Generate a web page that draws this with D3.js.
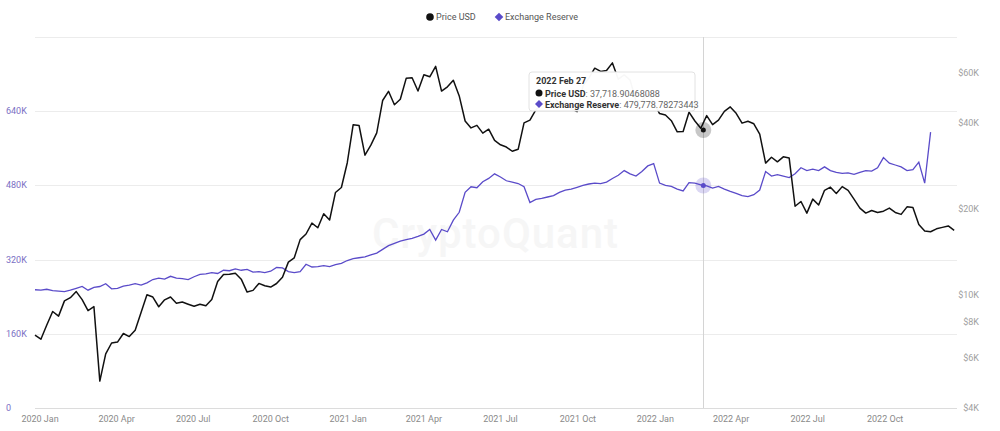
<!DOCTYPE html>
<html>
<head>
<meta charset="utf-8">
<script src="https://cdn.jsdelivr.net/npm/d3@7"></script>
<style>
  html, body { margin: 0; padding: 0; background: #fff; }
  svg { display: block; font-family: Roboto, "Noto Sans", sans-serif; }
  .xlab { fill: #8a8a8a; font-size: 9px; }
  .ylab { fill: #7a70c4; font-size: 9px; }
  .rlab { fill: #a0a0a0; font-size: 9px; }
</style>
</head>
<body>
<div id="chart"></div>
<script>
// weekly samples, first one on 2019-12-26
const startDate = new Date(2019, 11, 26);

const priceUsd = [
  7200, 6970, 7820, 8720, 8400, 9500, 9750, 10240, 9600, 8780,
  9070, 4970, 6190, 6760, 6810, 7300, 7120, 7500, 8650, 9980,
  9800, 9060, 9580, 9800, 9320, 9410, 9250, 9100, 9250, 9130,
  9600, 11100, 11750, 11770, 11870, 11320, 10200, 10340, 10940, 10730,
  10620, 10930, 11500, 12990, 13450, 15580, 16300, 17800, 17150, 19200,
  18250, 22800, 23730, 28990, 39400, 39150, 30800, 33400, 36900, 47900,
  51600, 46300, 48400, 57300, 57600, 51700, 59000, 58000, 63100, 51700,
  53500, 56400, 49700, 40600, 38400, 39200, 36800, 38000, 34700, 33500,
  32900, 31800, 32300, 40000, 40900, 44400, 46700, 46900, 49900, 46400,
  47700, 44900, 43800, 53800, 57400, 62200, 60600, 61000, 64900, 56900,
  58900, 56500, 47600, 47600, 50800, 47100, 43100, 42600, 40700, 37200,
  37300, 43600, 40600, 38300, 42400, 39400, 40900, 43900, 45500, 43200,
  39900, 40500, 39700, 36500, 28900, 30300, 29200, 30400, 30100, 20400,
  21200, 19300, 21600, 20600, 23200, 23800, 22600, 23900, 23200, 21600,
  20100, 19300, 19700, 19400, 19600, 20100, 19400, 19100, 20300, 20200,
  17600, 16700, 16600, 17000, 17200, 17400, 16800
];

// thousands
const exchangeReserve = [
  255, 254, 256, 253, 252, 251, 254, 258, 262, 254,
  260, 262, 268, 257, 258, 263, 265, 268, 265, 270,
  277, 280, 278, 284, 280, 279, 277, 283, 288, 289,
  292, 290, 297, 296, 300, 297, 299, 293, 294, 292,
  295, 303, 302, 294, 292, 294, 310, 304, 305, 307,
  305, 309, 312, 318, 322, 324, 326, 330, 334, 342,
  350, 355, 360, 363, 366, 370, 375, 385, 362, 385,
  380, 405, 422, 465, 477, 475, 488, 495, 505, 498,
  490, 487, 484, 477, 443, 450, 452, 455, 458, 465,
  470, 472, 476, 480, 483, 485, 484, 487, 495, 502,
  512, 505, 500, 510, 522, 527, 485, 480, 478, 472,
  468, 486, 485, 481, 479, 474, 478, 472, 467, 463,
  458, 456, 460, 470, 510, 500, 503, 500, 497, 505,
  518, 512, 515, 512, 520, 512, 508, 506, 507, 504,
  508, 512, 511, 518, 540, 528, 524, 520, 512, 514,
  530, 485, 595
];

const leftTicks = [0, 160000, 320000, 480000, 640000];
const leftTickLabels = ["0", "160K", "320K", "480K", "640K"];
const rightTicks = [4000, 6000, 8000, 10000, 20000, 40000, 60000];
const rightTickLabels = ["$4K", "$6K", "$8K", "$10K", "$20K", "$40K", "$60K"];

const hoverDate = new Date(2022, 1, 27);
const hoverPrice = "37,718.90468088";
const hoverReserve = "479,778.78273443";

const W = 1000, H = 431;
const plot = {left: 35, right: 955, top: 37, bottom: 408};
const purple = "#5a4bc9";
const diamond = s => `M0,${-s}L${s},0L0,${s}L${-s},0Z`;
const num = s => +s.replace(/,/g, "");

const dates = priceUsd.map((_, i) => d3.timeDay.offset(startDate, i * 7));
const priceData = priceUsd.map((v, i) => ({date: dates[i], value: v}));
const reserveData = exchangeReserve.map((v, i) => ({date: dates[i], value: v * 1000}));

const x = d3.scaleTime()
  .domain([startDate, new Date(2022, 11, 23)])
  .range([plot.left, plot.right]);
const yLeft = d3.scaleLinear().domain([0, 800000]).range([plot.bottom, plot.top]);
const yRight = d3.scaleLog().domain([4000, 80000]).range([plot.bottom, plot.top]);

const svg = d3.select("#chart").append("svg")
  .attr("width", W).attr("height", H);

// grid
svg.append("g").selectAll("line")
  .data(leftTicks.concat([800000]))
  .enter().append("line")
  .attr("x1", plot.left).attr("x2", plot.right + 2)
  .attr("y1", d => Math.round(yLeft(d)) + 0.5)
  .attr("y2", d => Math.round(yLeft(d)) + 0.5)
  .attr("stroke", d => d === 0 ? "#dcdcdc" : "#ececec");

// watermark
svg.append("text")
  .attr("x", 495).attr("y", 248)
  .attr("text-anchor", "middle")
  .attr("font-size", 42)
  .attr("font-weight", 500)
  .attr("textLength", 246)
  .attr("fill", "#f6f6f6")
  .text("CryptoQuant");

// left axis labels
svg.append("g").selectAll("text")
  .data(leftTicks)
  .enter().append("text")
  .attr("class", "ylab")
  .attr("x", 6)
  .attr("y", d => yLeft(d) + 3)
  .text((d, i) => leftTickLabels[i]);

// right axis labels
svg.append("g").selectAll("text")
  .data(rightTicks)
  .enter().append("text")
  .attr("class", "rlab")
  .attr("x", 979)
  .attr("text-anchor", "end")
  .attr("y", d => yRight(d) + 3)
  .text((d, i) => rightTickLabels[i]);

// x axis labels
const fmt = d3.timeFormat("%Y %b");
svg.append("g").selectAll("text")
  .data(d3.timeMonth.every(3).range(new Date(2020, 0, 1), new Date(2022, 11, 1)))
  .enter().append("text")
  .attr("class", "xlab")
  .attr("x", d => x(d))
  .attr("y", 422)
  .attr("text-anchor", "middle")
  .text(d => fmt(d));

// crosshair
svg.append("line")
  .attr("x1", Math.round(x(hoverDate)) + 0.5).attr("x2", Math.round(x(hoverDate)) + 0.5)
  .attr("y1", plot.top).attr("y2", plot.bottom)
  .attr("stroke", "#d4d4d4");

// series
svg.append("path")
  .datum(reserveData)
  .attr("fill", "none")
  .attr("stroke", purple)
  .attr("stroke-width", 1.3)
  .attr("d", d3.line().x(d => x(d.date)).y(d => yLeft(d.value)));

svg.append("path")
  .datum(priceData)
  .attr("fill", "none")
  .attr("stroke", "#111")
  .attr("stroke-width", 1.5)
  .attr("stroke-linejoin", "round")
  .attr("d", d3.line().x(d => x(d.date)).y(d => yRight(d.value)));

// hover markers
const hx = x(hoverDate);
svg.append("circle").attr("cx", hx).attr("cy", yRight(num(hoverPrice))).attr("r", 8).attr("fill", "rgba(0,0,0,0.22)");
svg.append("circle").attr("cx", hx).attr("cy", yRight(num(hoverPrice))).attr("r", 2.5).attr("fill", "#111");
svg.append("circle").attr("cx", hx).attr("cy", yLeft(num(hoverReserve))).attr("r", 8).attr("fill", "rgba(90,75,201,0.22)");
svg.append("circle").attr("cx", hx).attr("cy", yLeft(num(hoverReserve))).attr("r", 2.5).attr("fill", purple);

// tooltip
const tip = svg.append("g").attr("transform", "translate(529,72)");
tip.append("rect")
  .attr("width", 166).attr("height", 39)
  .attr("rx", 3)
  .attr("fill", "rgba(255,255,255,0.97)")
  .attr("stroke", "#e2e2e2");
tip.append("text")
  .attr("x", 7).attr("y", 12)
  .attr("font-size", 9).attr("font-weight", 700).attr("fill", "#333")
  .text("2022 Feb 27");
tip.append("circle").attr("cx", 10).attr("cy", 21).attr("r", 3.5).attr("fill", "#111");
const t1 = tip.append("text").attr("x", 16).attr("y", 24.5).attr("font-size", 9).attr("fill", "#666");
t1.append("tspan").attr("font-weight", 700).attr("fill", "#333").text("Price USD");
t1.append("tspan").text(": " + hoverPrice);
tip.append("path")
  .attr("d", diamond(4))
  .attr("transform", "translate(10,32)")
  .attr("fill", purple);
const t2 = tip.append("text").attr("x", 16).attr("y", 35.5).attr("font-size", 9).attr("fill", "#666");
t2.append("tspan").attr("font-weight", 700).attr("fill", "#333").text("Exchange Reserve");
t2.append("tspan").text(": " + hoverReserve);

// legend
const legend = svg.append("g").attr("font-size", 9).attr("fill", "#555");
legend.append("circle").attr("cx", 430).attr("cy", 17).attr("r", 3.8).attr("fill", "#111");
legend.append("text").attr("x", 436).attr("y", 20).text("Price USD");
legend.append("path")
  .attr("d", diamond(4.3))
  .attr("transform", "translate(499,17)")
  .attr("fill", purple);
legend.append("text").attr("x", 505).attr("y", 20).text("Exchange Reserve");
</script>
</body>
</html>
